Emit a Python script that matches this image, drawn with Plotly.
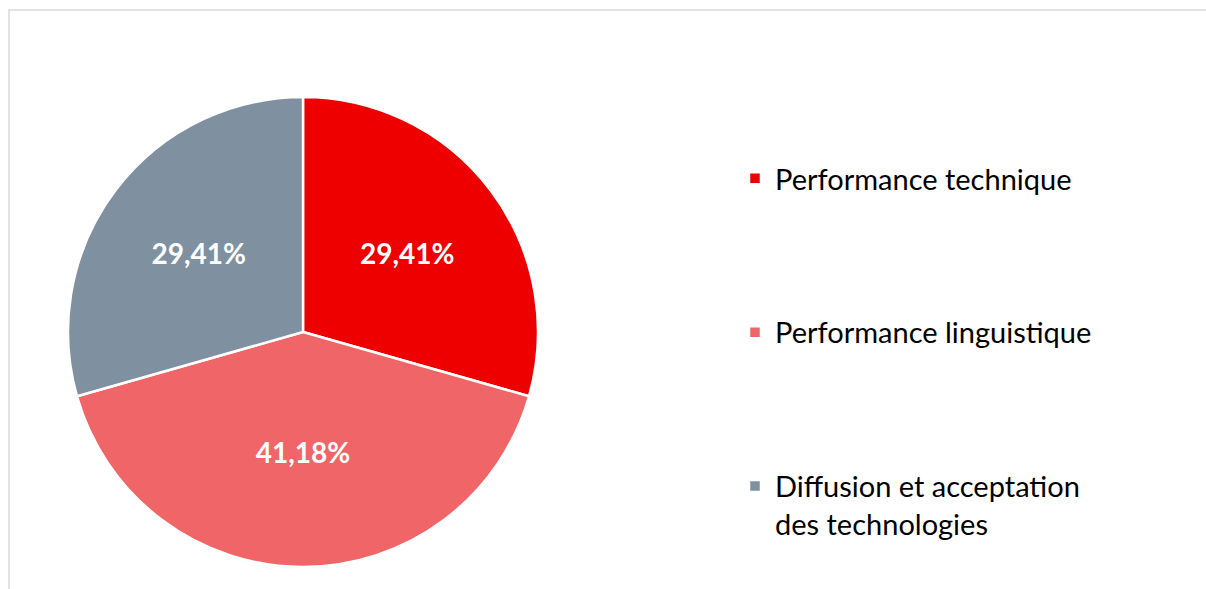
import plotly.graph_objects as go

categories = ["Performance technique", "Performance linguistique", "Diffusion et acceptation des technologies"]
legend_labels = ["Performance technique<br> <br> <br> ", "Performance linguistique<br> <br> <br> ", "Diffusion et acceptation<br>des technologies"]
shares = [29.41, 41.18, 29.41]
colors = ["#EE0000", "#F06668", "#7F91A0"]

W, H = 1206, 589
cx, cy, r = 303, 332, 235

fig = go.Figure(go.Pie(
    labels=legend_labels,
    values=shares,
    customdata=categories,
    sort=False,
    direction="clockwise",
    rotation=0,
    marker=dict(colors=colors, line=dict(color="white", width=2.5)),
    texttemplate="%{percent:.2%}",
    textposition="inside",
    insidetextorientation="horizontal",
    textfont=dict(family="Lato", size=28, color="white", weight="bold"),
    hovertemplate="%{customdata}: %{percent:.2%}<extra></extra>",
    domain=dict(x=[(cx - r) / W, (cx + r) / W], y=[1 - (cy + r) / H, 1 - (cy - r) / H]),
))

fig.update_layout(
    width=W, height=H,
    margin=dict(l=0, r=0, t=0, b=0),
    paper_bgcolor="white",
    plot_bgcolor="white",
    separators=", ",
    showlegend=True,
    legend=dict(
        x=(775 - 40) / W, xanchor="left",
        y=1 - 153 / H, yanchor="top",
        valign="top",
        font=dict(family="Lato", size=29, color="#000000"),
        bgcolor="rgba(0,0,0,0)",
        itemclick=False,
    ),
    shapes=[dict(type="rect", xref="paper", yref="paper",
                 x0=9 / W, x1=1.05, y0=-0.05, y1=1 - 10 / H,
                 line=dict(color="#D9D9D9", width=1.5), fillcolor="rgba(0,0,0,0)", layer="below")],
)

fig.write_html("out.html", config={"displayModeBar": False},
               post_script="document.body.style.margin='0';document.body.style.overflow='hidden';")
